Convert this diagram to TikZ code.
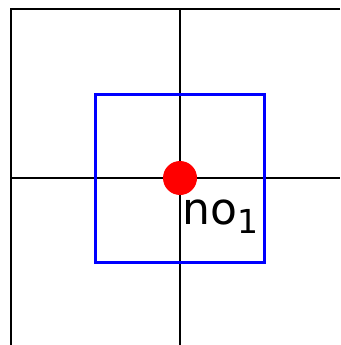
\documentclass[tikz,border=0pt]{standalone}
\usepackage{fontspec}
\usepackage{xcolor}
\usepackage{tikz}
\usetikzlibrary{positioning}
\newfontfamily\labelfont{DejaVu Sans}
\definecolor{gridline}{HTML}{000000}
\definecolor{cellblue}{HTML}{0000FF}
\definecolor{pointred}{HTML}{FF0000}
\tikzset{
    grid/.style={draw=gridline, line width=1.5pt},
    cell/.style={draw=cellblue, line width=3pt},
    point/.style={circle, fill=pointred, minimum size=34pt, inner sep=0pt},
    tag/.style={anchor=base west, inner sep=0pt, font=\labelfont\fontsize{44}{50}\selectfont}
}

\begin{document}
\begin{tikzpicture}[x=1pt, y=-1pt]

\useasboundingbox (0,0) rectangle (340,345);

% grid lines
\coordinate (tl) at (11,9);
\coordinate (tr) at (340,9);
\coordinate (bl) at (11,345);
\coordinate (mt) at (180,9);
\coordinate (mb) at (180,345);
\coordinate (ml) at (11,178);
\coordinate (mr) at (340,178);

\draw[grid] (tr) -- (tl) -- (bl);
\draw[grid] (mt) -- (mb);
\draw[grid] (ml) -- (mr);

% cell around the point
\draw[cell] (95,94) rectangle (264,262);

\node[point] (no) at (180,178) {};
\node[tag] (nolabel) at (182,224) {no{\fontsize{33}{33}\selectfont\raisebox{-9pt}{1}}};

\end{tikzpicture}
\end{document}
